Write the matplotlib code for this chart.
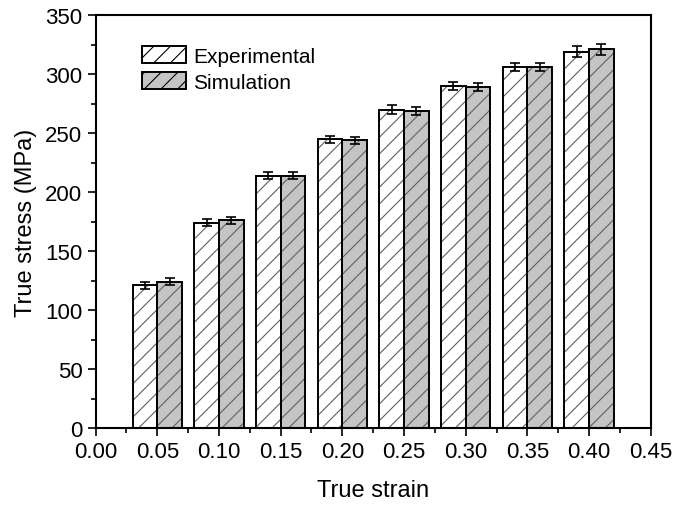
import matplotlib.pyplot as plt
from matplotlib.ticker import MultipleLocator
import numpy as np

plt.rcParams['font.family'] = ['Liberation Sans', 'DejaVu Sans']
plt.rcParams['hatch.linewidth'] = 0.8

strain = [0.05, 0.10, 0.15, 0.20, 0.25, 0.30, 0.35, 0.40]
exp_stress = [121, 174, 214, 245, 270, 290, 306, 319]
exp_err = [3, 3, 3, 3, 3.5, 3.5, 3.5, 4.5]
sim_stress = [124, 176, 214, 244, 269, 289, 306, 321]
sim_err = [3, 3, 3, 3, 3.5, 3.5, 3.5, 4.5]

w = 0.02
x = np.array(strain)

fig = plt.figure(figsize=(6.73, 5.06), dpi=100)
ax = fig.add_axes([0.142, 0.152, 0.825, 0.816])

# hatched fill first (gray hatch), then black outline on top
ax.bar(x - w/2, exp_stress, w, color='white', edgecolor='#606060', hatch='//', linewidth=0)
ax.bar(x + w/2, sim_stress, w, color='#c4c4c4', edgecolor='#606060', hatch='//', linewidth=0)
ax.bar(x - w/2, exp_stress, w, fill=False, edgecolor='black', linewidth=1.4)
ax.bar(x + w/2, sim_stress, w, fill=False, edgecolor='black', linewidth=1.4)

ax.errorbar(x - w/2, exp_stress, yerr=exp_err, fmt='none', ecolor='black',
            elinewidth=1.2, capsize=3.6, capthick=1.2)
ax.errorbar(x + w/2, sim_stress, yerr=sim_err, fmt='none', ecolor='black',
            elinewidth=1.2, capsize=3.6, capthick=1.2)

# legend proxies
h1 = plt.Rectangle((0, 0), 1, 1, facecolor='white', edgecolor='#606060', hatch='//', linewidth=1.4)
h2 = plt.Rectangle((0, 0), 1, 1, facecolor='#c4c4c4', edgecolor='#606060', hatch='//', linewidth=1.4)
leg = ax.legend([h1, h2], ['Experimental', 'Simulation'], loc='upper left',
                bbox_to_anchor=(0.05, 0.97), frameon=False, fontsize=15,
                handlelength=2.1, handleheight=0.85, handletextpad=0.35, labelspacing=0.3)
for p in leg.get_patches():
    p.set_edgecolor('black')

ax.set_xlim(0, 0.45)
ax.set_ylim(0, 350)
ax.xaxis.set_major_locator(MultipleLocator(0.05))
ax.xaxis.set_minor_locator(MultipleLocator(0.025))
ax.yaxis.set_major_locator(MultipleLocator(50))
ax.yaxis.set_minor_locator(MultipleLocator(25))
ax.xaxis.set_major_formatter(plt.FormatStrFormatter('%.2f'))

ax.tick_params(which='major', direction='out', length=6, width=1.2, labelsize=16,
               top=False, right=False)
ax.tick_params(which='minor', direction='out', length=3.5, width=1.2,
               top=False, right=False)
for s in ax.spines.values():
    s.set_linewidth(1.5)

ax.set_xlabel('True strain', fontsize=17, labelpad=12)
ax.set_ylabel('True stress (MPa)', fontsize=17, labelpad=6)

fig.savefig('out.png', dpi=100)
